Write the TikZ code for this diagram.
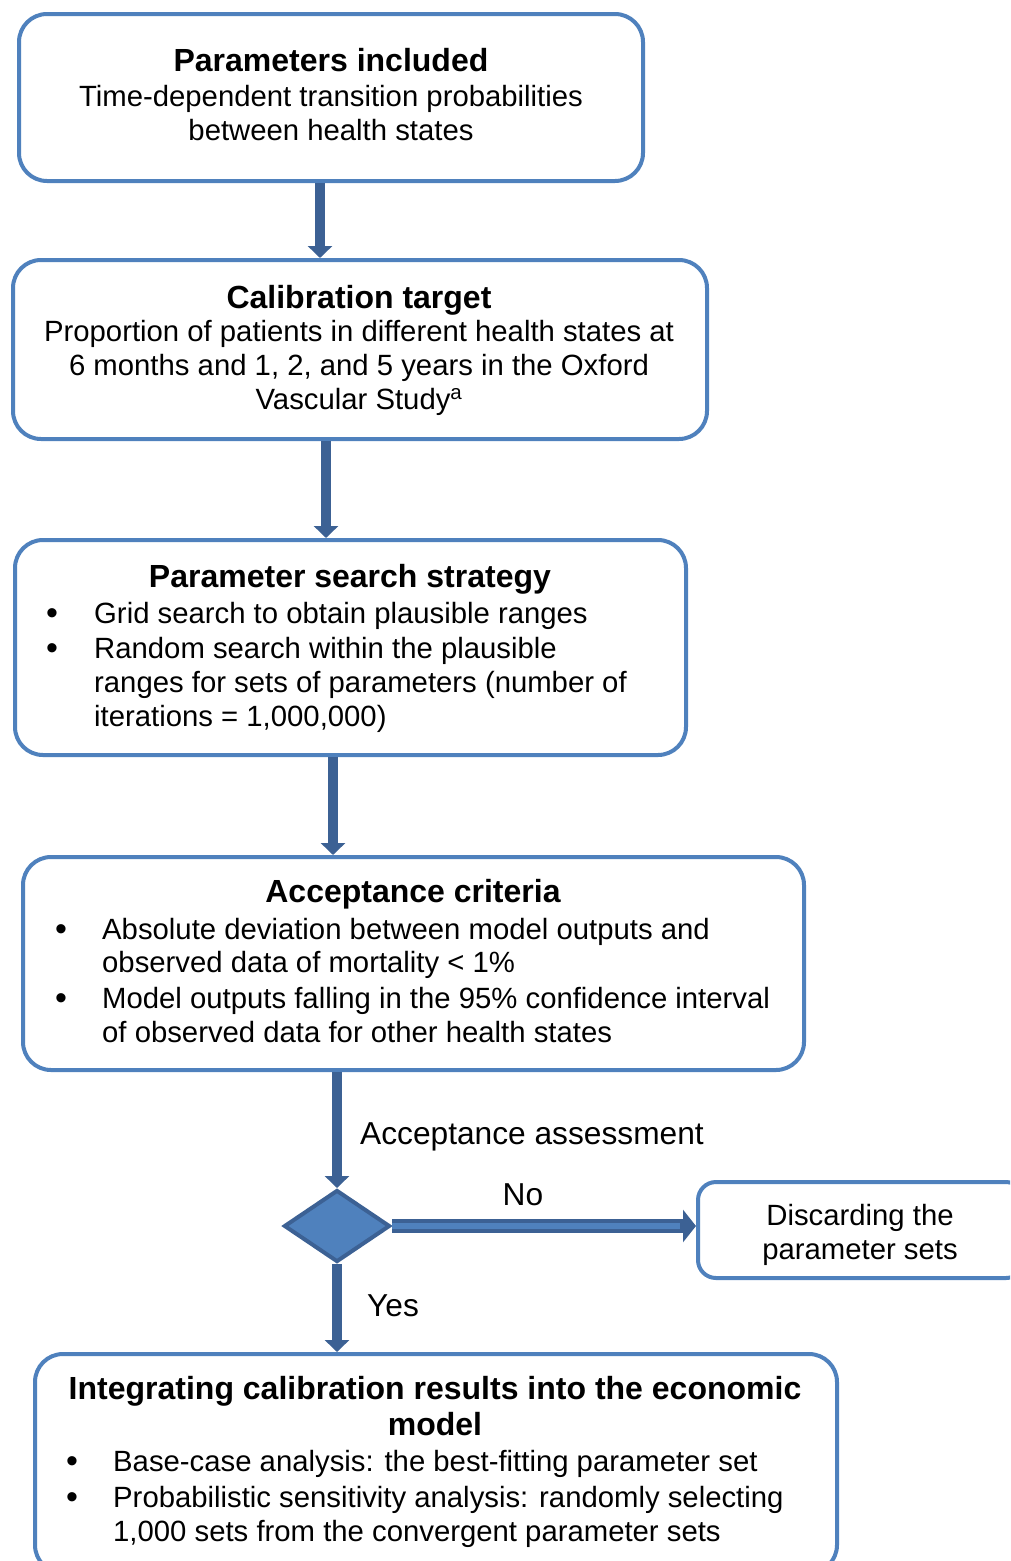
\documentclass[tikz,border=0pt]{standalone}
\usepackage{fontspec}
\setmainfont{Liberation Sans}
\usetikzlibrary{shapes.geometric,arrows.meta}
\definecolor{boxblue}{RGB}{79,129,189}
\definecolor{arrblue}{RGB}{60,97,148}
\begin{document}
\begin{tikzpicture}[x=1pt,y=-1pt,
  box/.style={draw=boxblue, line width=4pt, rounded corners=28pt, fill=white, inner sep=0pt},
  body/.style={font=\fontsize{29.3}{34}\selectfont, inner sep=0pt},
  bul/.style={font=\fontsize{34}{34}\selectfont, inner sep=0pt},
  ttl/.style={font=\fontsize{32}{36}\selectfont\bfseries, inner sep=0pt},
  lab/.style={font=\fontsize{31.7}{36}\selectfont, inner sep=0pt},
  arr/.style={draw=arrblue, line width=10pt, -{Triangle[width=24pt,length=12pt]}}]
\useasboundingbox (0,0) rectangle (1010,1561);
\clip (0,0) rectangle (1010,1561);
% boxes
\node[box, minimum width=624pt, minimum height=167pt] (b1) at (331,97.5) {};
\node[box, minimum width=694pt, minimum height=179pt] (b2) at (360,349.5) {};
\node[box, minimum width=671pt, minimum height=215pt] (b3) at (350.5,647.5) {};
\node[box, minimum width=781pt, minimum height=213pt] (b4) at (413.5,963.5) {};
\node[box, rounded corners=18pt, minimum width=326pt, minimum height=96pt] (b5) at (861,1230) {};
\node[box, minimum width=802pt, minimum height=219pt] (b6) at (436,1463.5) {};
\node[diamond, draw=arrblue, fill=boxblue, line width=4pt, minimum width=106pt, minimum height=72pt, inner sep=0pt] (dec) at (337,1226) {};
% column coordinates for connectors
\coordinate (x1) at (320,0);
\coordinate (x2) at (326,0);
\coordinate (x3) at (333,0);
% connectors
\draw[arr] (x1 |- b1.south) -- (x1 |- b2.north);
\draw[arr] (x2 |- b2.south) -- (x2 |- b3.north);
\draw[arr] (x3 |- b3.south) -- (x3 |- b4.north);
\draw[arr] (dec.north |- b4.south) -- (dec.north);
\draw[arr] (dec.south) -- (dec.south |- b6.north);
\draw[arrblue, line width=14pt, -{Triangle[width=32pt,length=13pt]}] (dec.east) -- (dec.east -| b5.west);
\draw[boxblue, line width=6pt, shorten >=16pt] (dec.east) -- (dec.east -| b5.west);
% box 1 text
\node[ttl, anchor=base] (t1) at (331,71) {Parameters included};
\node[body, anchor=base] (t1a) at (331,106) {Time-dependent transition probabilities};
\node[body, anchor=base] (t1b) at (331,140) {between health states};
% box 2 text
\node[ttl, anchor=base] (t2) at (359,308) {Calibration target};
\node[body, anchor=base] (t2a) at (359,341) {Proportion of patients in different health states at};
\node[body, anchor=base] (t2b) at (359,375) {6 months and 1, 2, and 5 years in the Oxford};
\node[body, anchor=base] (t2c) at (359,409) {Vascular Study\textsuperscript{a}};
% box 3 text
\node[ttl, anchor=base] (t3) at (350,587) {Parameter search strategy};
\node[bul, anchor=base] (u3a) at (52,624) {\textbullet};
\node[bul, anchor=base] (u3b) at (52,659) {\textbullet};
\node[body, anchor=base west] (t3a) at (94,623) {Grid search to obtain plausible ranges};
\node[body, anchor=base west] (t3b) at (94,658) {Random search within the plausible};
\node[body, anchor=base west] (t3c) at (94,692) {ranges for sets of parameters (number of};
\node[body, anchor=base west] (t3d) at (94,726) {iterations = 1,000,000)};
% box 4 text
\node[ttl, anchor=base] (t4) at (413,902) {Acceptance criteria};
\node[bul, anchor=base] (u4a) at (61,940) {\textbullet};
\node[bul, anchor=base] (u4b) at (61,1009) {\textbullet};
\node[body, anchor=base west] (t4a) at (102,939) {Absolute deviation between model outputs and};
\node[body, anchor=base west] (t4b) at (102,972) {observed data of mortality < 1\%};
\node[body, anchor=base west] (t4c) at (102,1008) {Model outputs falling in the 95\% confidence interval};
\node[body, anchor=base west] (t4d) at (102,1042) {of observed data for other health states};
% labels
\node[lab, anchor=base west] (l1) at (360,1144) {Acceptance assessment};
\node[lab, anchor=base] (l2) at (523,1205) {No};
\node[lab, anchor=base west] (l3) at (367,1316) {Yes};
% discard text
\node[body, anchor=base] (t5a) at (860,1225) {Discarding the};
\node[body, anchor=base] (t5b) at (860,1259) {parameter sets};
% box 6 text
\node[ttl, anchor=base] (t6) at (435,1399) {Integrating calibration results into the economic};
\node[ttl, anchor=base] (t6m) at (435,1435) {model};
\node[bul, anchor=base] (u6a) at (72,1472) {\textbullet};
\node[bul, anchor=base] (u6b) at (72,1508) {\textbullet};
\node[body, anchor=base west] (t6a) at (113,1471) {Base-case analysis: the best-fitting parameter set};
\node[body, anchor=base west] (t6b) at (113,1507) {Probabilistic sensitivity analysis: randomly selecting};
\node[body, anchor=base west] (t6c) at (113,1541) {1,000 sets from the convergent parameter sets};
\end{tikzpicture}
\end{document}
